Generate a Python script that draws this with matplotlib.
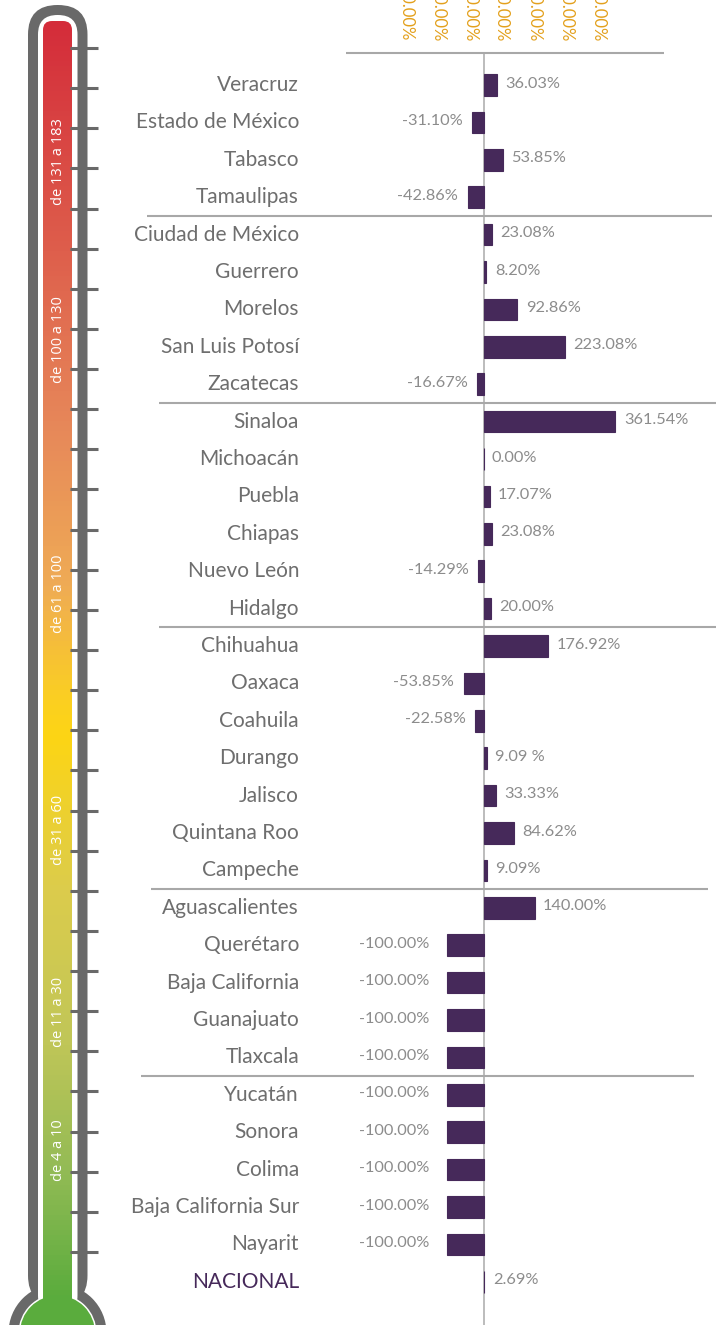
import numpy as np
import matplotlib.pyplot as plt
from matplotlib.patches import FancyBboxPatch, Circle
from matplotlib.colors import LinearSegmentedColormap

plt.rcParams['font.family'] = ['Lato', 'DejaVu Sans']

# Datos
estados = ['Veracruz', 'Estado de México', 'Tabasco', 'Tamaulipas',
           'Ciudad de México', 'Guerrero', 'Morelos', 'San Luis Potosí', 'Zacatecas',
           'Sinaloa', 'Michoacán', 'Puebla', 'Chiapas', 'Nuevo León', 'Hidalgo',
           'Chihuahua', 'Oaxaca', 'Coahuila', 'Durango', 'Jalisco', 'Quintana Roo', 'Campeche',
           'Aguascalientes', 'Querétaro', 'Baja California', 'Guanajuato', 'Tlaxcala',
           'Yucatán', 'Sonora', 'Colima', 'Baja California Sur', 'Nayarit',
           'NACIONAL']
valores = [36.03, -31.10, 53.85, -42.86,
           23.08, 8.20, 92.86, 223.08, -16.67,
           361.54, 0.00, 17.07, 23.08, -14.29, 20.00,
           176.92, -53.85, -22.58, 9.09, 33.33, 84.62, 9.09,
           140.00, -100, -100, -100, -100,
           -100, -100, -100, -100, -100,
           2.69]
etiquetas = ['36.03%', '-31.10%', '53.85%', '-42.86%',
             '23.08%', '8.20%', '92.86%', '223.08%', '-16.67%',
             '361.54%', '0.00%', '17.07%', '23.08%', '-14.29%', '20.00%',
             '176.92%', '-53.85%', '-22.58%', '9.09 %', '33.33%', '84.62%', '9.09%',
             '140.00%', '-100.00%', '-100.00%', '-100.00%', '-100.00%',
             '-100.00%', '-100.00%', '-100.00%', '-100.00%', '-100.00%',
             '2.69%']
grupos = [4, 5, 6, 7, 5, 5]
rangos = ['de 131 a 183', 'de 100 a 130', 'de 61 a 100', 'de 31 a 60', 'de 11 a 30', 'de 4 a 10']
ticks_sup = [100, 200, 300, 400, 500, 600, 700]

W, H = 716, 1325
morado = '#46295a'
gris = '#6e6e6e'

fig = plt.figure(figsize=(W / 100, H / 100), dpi=100)

# --- termometro (coordenadas en pixeles)
deco = fig.add_axes([0, 0, 1, 1])
deco.set_xlim(0, W)
deco.set_ylim(H, 0)
deco.axis('off')

tubo_gris = '#696969'
deco.add_patch(FancyBboxPatch((28, 5), 59.5, 1300, boxstyle='round,pad=0,rounding_size=29.5',
                              fc=tubo_gris, ec='none'))
deco.add_patch(Circle((57.5, 1333), 49, fc=tubo_gris, ec='none'))
deco.add_patch(FancyBboxPatch((38, 15), 39.5, 1300, boxstyle='round,pad=0,rounding_size=19.5',
                              fc='white', ec='none'))
deco.add_patch(Circle((57.5, 1333), 39, fc='white', ec='none'))

cmap = LinearSegmentedColormap.from_list('termo', [
    (0.00, '#d42c3a'), (0.18, '#de5f4c'), (0.32, '#e7895a'), (0.44, '#efab55'),
    (0.53, '#fbcf22'), (0.56, '#fdd514'), (0.68, '#dccc4c'), (0.80, '#c0c658'),
    (0.90, '#93bb55'), (1.00, '#5aac3d')])
interior = FancyBboxPatch((43, 21), 29, 1300, boxstyle='round,pad=0,rounding_size=9',
                          fc='none', ec='none')
deco.add_patch(interior)
grad = np.linspace(0, 1, 256).reshape(-1, 1)
img = deco.imshow(grad, cmap=cmap, extent=(43, 72, 1300, 21), aspect='auto', zorder=2)
img.set_clip_path(interior)
deco.add_patch(Circle((57.5, 1333), 37.5, fc='#5aac3d', ec='none', zorder=2))
deco.set_xlim(0, W)
deco.set_ylim(H, 0)

deco.hlines(np.linspace(48, 1252, 31), 70, 98, color=tubo_gris, lw=2.2, zorder=3)
for s, y in zip(rangos, [162, 340, 594, 830, 1012, 1150]):
    deco.text(58, y, s, rotation=90, color='white', fontsize=10.5, ha='center', va='center',
              family=['Open Sans', 'DejaVu Sans'], zorder=4)

# --- barras
k = 0.365        # pixeles por punto porcentual
x0 = 483.5       # pixel del cero
y0, dy = 85, 37.4


def px(x):
    return (x - x0) / k


ax = fig.add_axes([0, 0, 1, 1])
ax.patch.set_alpha(0)
ax.set_xlim(px(0), px(W))
ax.set_ylim((H - y0) / dy, -y0 / dy)
ax.axis('off')

filas = np.arange(len(estados))
ax.barh(filas, valores, height=0.58, color=morado, edgecolor=morado, lw=0.8, zorder=3)

ax.vlines(0, -0.85, 40, color='#b0b0b0', lw=1.2, zorder=2)
ax.hlines(-0.85, px(346), px(664), color='#a8a8a8', lw=1.5)
cortes = np.cumsum(grupos)[:-1] - 0.5
extremos = [(147, 712), (159, 716), (159, 716), (151, 708), (141, 694)]
for c, (a, b) in zip(cortes, extremos):
    ax.hlines(c, px(a), px(b), color='#a8a8a8', lw=1.5)

for i, (e, v, t) in enumerate(zip(estados, valores, etiquetas)):
    color = morado if e == 'NACIONAL' else gris
    ax.text(px(299), i, e, ha='right', va='center', fontsize=15, color=color)
    if v < 0:
        sep = -13 if v <= -100 else -7
        ax.annotate(t, (v, i), xytext=(sep, 1), textcoords='offset points',
                    ha='right', va='center', fontsize=11.8, color='#8c8c8c')
    else:
        ax.annotate(t, (v, i), xytext=(6, 1), textcoords='offset points',
                    ha='left', va='center', fontsize=11.8, color='#8c8c8c')

# --- etiquetas superiores (recortadas en el borde, como en el original)
axt = fig.add_axes([0, 1 - 42 / H, 1, 0.0001])
axt.set_xlim(100 - 406 / 0.32, 100 + (W - 406) / 0.32)
axt.patch.set_alpha(0)
for sp in axt.spines.values():
    sp.set_visible(False)
axt.set_yticks([])
axt.set_xticks(ticks_sup)
axt.set_xticklabels([f'{t:.2f}%' for t in ticks_sup])
axt.tick_params(axis='x', top=True, labeltop=True, bottom=False, labelbottom=False,
                length=0, pad=0, labelrotation=-90, labelcolor='#e3a01c', labelsize=12)

fig.savefig('out.png', dpi=100)
